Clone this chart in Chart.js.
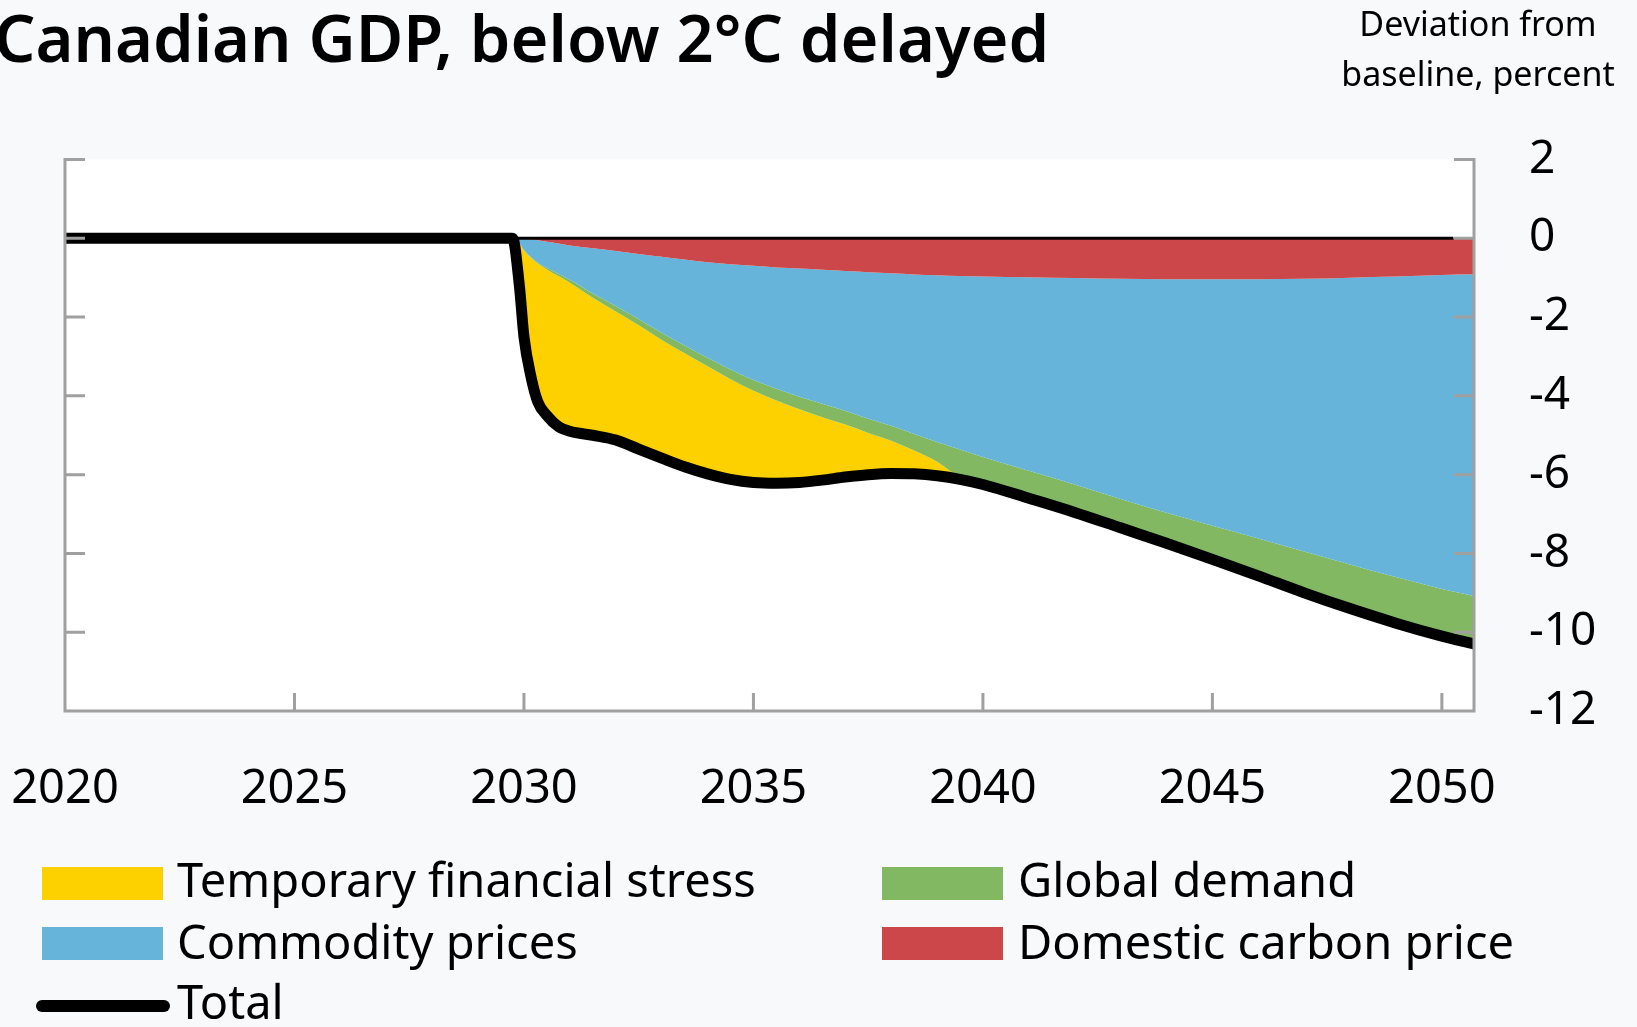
<!DOCTYPE html>
<html>
<head>
<meta charset="utf-8">
<title>Canadian GDP, below 2°C delayed</title>
<script src="https://cdn.jsdelivr.net/npm/chart.js@4.4.0/dist/chart.umd.min.js"></script>
<style>
  html, body { margin: 0; padding: 0; background: #f8f9fb; overflow: hidden; }
  #wrap { position: relative; width: 1637px; height: 1027px; font-family: "Noto Sans", "Open Sans", sans-serif; color: #000; }
  #gdpChart { position: absolute; left: 0; top: 0; }
  #title { position: absolute; left: -6px; top: 4px; font-size: 65px; line-height: 66px; font-weight: 600; white-space: nowrap; }
  #units { position: absolute; left: 1278px; top: -2px; width: 400px; text-align: center; font-size: 34px; line-height: 50px; }
  .legend-item { position: absolute; font-size: 47px; line-height: 47px; white-space: nowrap; }
  .swatch { position: absolute; }
</style>
</head>
<body>
<div id="wrap">
  <canvas id="gdpChart" width="1637" height="1027"></canvas>
  <div id="title">Canadian GDP, below 2°C delayed</div>
  <div id="units">Deviation from<br>baseline, percent</div>
  <div id="legend"></div>
</div>
<script>
// Years (quarters as fractions)
const years = [2020, 2029.75, 2029.9, 2030, 2030.15, 2030.3, 2030.5, 2030.75, 2031, 2031.5,
  2032, 2032.5, 2033, 2033.5, 2034, 2034.5, 2035, 2035.5, 2036, 2036.5,
  2037, 2037.5, 2038, 2038.5, 2039, 2039.5, 2040, 2041, 2042, 2043,
  2044, 2045, 2046, 2047, 2048, 2049, 2050, 2050.7];

// Contributions, deviation from baseline in percent
const carbonPrice = [0, 0, -0.01, -0.02, -0.03, -0.05, -0.09, -0.13, -0.18, -0.25,
  -0.32, -0.40, -0.47, -0.54, -0.61, -0.66, -0.70, -0.74, -0.77, -0.80,
  -0.83, -0.86, -0.89, -0.92, -0.94, -0.96, -0.97, -0.99, -1.01, -1.03,
  -1.04, -1.04, -1.04, -1.03, -1.00, -0.97, -0.93, -0.91];
const commodityPrices = [0, 0, -0.11, -0.28, -0.45, -0.57, -0.66, -0.77, -0.87, -1.15,
  -1.40, -1.65, -1.93, -2.18, -2.42, -2.67, -2.90, -3.08, -3.25, -3.40,
  -3.55, -3.72, -3.87, -4.05, -4.23, -4.40, -4.58, -4.91, -5.24, -5.59,
  -5.93, -6.26, -6.58, -6.92, -7.28, -7.63, -7.97, -8.17];
const globalDemand = [0, 0, 0, -0.01, -0.01, -0.02, -0.04, -0.06, -0.08, -0.11,
  -0.14, -0.16, -0.18, -0.20, -0.22, -0.25, -0.27, -0.30, -0.32, -0.34,
  -0.35, -0.36, -0.38, -0.42, -0.50, -0.70, -0.70, -0.70, -0.71, -0.73,
  -0.77, -0.85, -0.95, -1.05, -1.12, -1.17, -1.20, -1.22];
const financialStress = [0, 0, -1.08, -2.19, -3.01, -3.51, -3.71, -3.82, -3.77, -3.49,
  -3.26, -3.14, -3.00, -2.88, -2.73, -2.54, -2.33, -2.10, -1.86, -1.60,
  -1.33, -1.06, -0.83, -0.59, -0.36, -0.06, 0, 0, 0, 0,
  0, 0, 0, 0, 0, 0, 0, 0];
const total = [0, 0, -1.2, -2.5, -3.5, -4.15, -4.5, -4.78, -4.9, -5.0,
  -5.12, -5.35, -5.58, -5.8, -5.98, -6.12, -6.2, -6.22, -6.2, -6.14,
  -6.06, -6.0, -5.97, -5.98, -6.03, -6.12, -6.25, -6.6, -6.96, -7.35,
  -7.74, -8.15, -8.57, -9.0, -9.4, -9.77, -10.1, -10.3];

// zero reference line after the shock starts
const zeroLineYears = [2029.75, 2050.25];

const xTicks = [2020, 2025, 2030, 2035, 2040, 2045, 2050];
const yTicks = [2, 0, -2, -4, -6, -8, -10, -12];

const colors = {
  stress: '#fdd100',
  commodity: '#67b4da',
  demand: '#83b862',
  carbon: '#cc4749',
  total: '#000000'
};

function toPoints(values) {
  return values.map((v, i) => ({ x: years[i], y: v }));
}

// White plot area and the grey frame with inward ticks
const framePlugin = {
  id: 'frame',
  beforeDraw(chart) {
    const { ctx, chartArea: a } = chart;
    ctx.save();
    ctx.fillStyle = '#ffffff';
    ctx.fillRect(a.left, a.top, a.right - a.left, a.bottom - a.top);
    ctx.restore();
  },
  afterDatasetsDraw(chart) {
    const { ctx, chartArea: a, scales } = chart;
    ctx.save();
    ctx.strokeStyle = '#a0a0a0';
    ctx.lineWidth = 3;
    ctx.beginPath();
    ctx.moveTo(a.left, a.top - 1.5);
    ctx.lineTo(a.left, a.bottom);
    ctx.lineTo(a.right, a.bottom);
    ctx.lineTo(a.right, a.top - 1.5);
    yTicks.forEach(v => {
      const py = scales.y.getPixelForValue(v);
      ctx.moveTo(a.left, py);
      ctx.lineTo(a.left + 20, py);
      ctx.moveTo(a.right, py);
      ctx.lineTo(a.right - 20, py);
    });
    xTicks.forEach(v => {
      const px = scales.x.getPixelForValue(v);
      ctx.moveTo(px, a.bottom);
      ctx.lineTo(px, a.bottom - 18);
    });
    ctx.stroke();
    ctx.restore();
  }
};

const areaStyle = {
  borderWidth: 0,
  pointRadius: 0,
  cubicInterpolationMode: 'monotone',
  stack: 'gdp'
};

// the fixed layout padding already leaves room for the labels
function noLabelPadding(scale) {
  scale.paddingLeft = 0;
  scale.paddingRight = 0;
  scale.paddingTop = 0;
  scale.paddingBottom = 0;
}

const ctx = document.getElementById('gdpChart').getContext('2d');
new Chart(ctx, {
  type: 'line',
  data: {
    datasets: [
      {
        label: 'Total',
        data: toPoints(total),
        borderColor: colors.total,
        borderWidth: 11,
        borderCapStyle: 'round',
        pointRadius: 0,
        cubicInterpolationMode: 'monotone',
        fill: false,
        stack: 'total'
      },
      {
        label: 'zero',
        data: zeroLineYears.map(x => ({ x: x, y: 0 })),
        borderColor: '#000000',
        borderWidth: 3,
        pointRadius: 0,
        fill: false,
        stack: 'zero'
      },
      Object.assign({ label: 'Domestic carbon price', data: toPoints(carbonPrice),
        backgroundColor: colors.carbon, borderColor: colors.carbon, fill: 'origin' }, areaStyle),
      Object.assign({ label: 'Commodity prices', data: toPoints(commodityPrices),
        backgroundColor: colors.commodity, borderColor: colors.commodity, fill: '-1' }, areaStyle),
      Object.assign({ label: 'Global demand', data: toPoints(globalDemand),
        backgroundColor: colors.demand, borderColor: colors.demand, fill: '-1' }, areaStyle),
      Object.assign({ label: 'Temporary financial stress', data: toPoints(financialStress),
        backgroundColor: colors.stress, borderColor: colors.stress, fill: '-1' }, areaStyle)
    ]
  },
  options: {
    responsive: false,
    animation: false,
    devicePixelRatio: 1,
    layout: { padding: { top: 159.5, left: 65, right: 0, bottom: 0 } },
    plugins: {
      legend: { display: false },
      title: { display: false },
      tooltip: { enabled: false }
    },
    scales: {
      x: {
        type: 'linear',
        min: 2020,
        max: 2050.7,
        grid: { display: false, drawTicks: false },
        border: { display: false },
        afterFit(scale) { scale.height = 316; noLabelPadding(scale); },
        afterBuildTicks(scale) { scale.ticks = xTicks.map(v => ({ value: v })); },
        ticks: {
          includeBounds: false,
          autoSkip: false,
          maxRotation: 0,
          padding: 50,
          color: '#000',
          font: { family: '"Noto Sans", "Open Sans", sans-serif', size: 47 },
          callback: v => String(v)
        }
      },
      y: {
        type: 'linear',
        position: 'right',
        stacked: true,
        min: -12,
        max: 2,
        grid: { display: false, drawTicks: false },
        border: { display: false },
        afterFit(scale) { scale.width = 163; noLabelPadding(scale); },
        afterBuildTicks(scale) { scale.ticks = yTicks.map(v => ({ value: v })); },
        ticks: {
          autoSkip: false,
          padding: 55,
          color: '#000',
          font: { family: '"Noto Sans", "Open Sans", sans-serif', size: 46 },
          callback: v => String(v)
        }
      }
    }
  },
  plugins: [framePlugin]
});

// Legend built by hand to match the two-column layout
const legendItems = [
  { label: 'Temporary financial stress', color: colors.stress, kind: 'box', left: 42, top: 867, textLeft: 177, textTop: 856 },
  { label: 'Global demand', color: colors.demand, kind: 'box', left: 882, top: 867, textLeft: 1018, textTop: 856 },
  { label: 'Commodity prices', color: colors.commodity, kind: 'box', left: 42, top: 927, textLeft: 177, textTop: 918 },
  { label: 'Domestic carbon price', color: colors.carbon, kind: 'box', left: 882, top: 927, textLeft: 1018, textTop: 918 },
  { label: 'Total', color: colors.total, kind: 'line', left: 36, top: 1000, textLeft: 177, textTop: 978 }
];
const legend = document.getElementById('legend');
legendItems.forEach(item => {
  const sw = document.createElement('div');
  sw.className = 'swatch';
  sw.style.left = item.left + 'px';
  sw.style.top = item.top + 'px';
  sw.style.background = item.color;
  if (item.kind === 'box') {
    sw.style.width = '121px';
    sw.style.height = '33px';
  } else {
    sw.style.width = '134px';
    sw.style.height = '12px';
    sw.style.borderRadius = '6px';
  }
  legend.appendChild(sw);
  const tx = document.createElement('div');
  tx.className = 'legend-item';
  tx.style.left = item.textLeft + 'px';
  tx.style.top = item.textTop + 'px';
  tx.textContent = item.label;
  legend.appendChild(tx);
});
</script>
</body>
</html>
